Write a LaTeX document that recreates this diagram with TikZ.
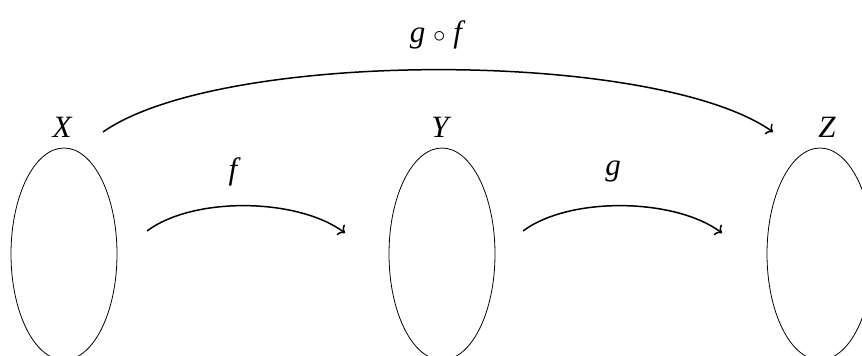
\documentclass[tikz,border=0pt]{standalone}
\usepackage{fontspec}
\newfontfamily\lbfont{Liberation Serif}
\usetikzlibrary{shapes.geometric,arrows.meta}
\begin{document}
\begin{tikzpicture}[x=1pt,y=-1pt,
  setbox/.style={ellipse, draw, line width=0.8pt, minimum width=106pt, minimum height=212pt, inner sep=0pt},
  lbl/.style={font=\fontsize{31}{36}\lbfont\itshape, inner sep=0pt},
  maparrow/.style={-{To[length=6pt,width=13pt]}, line width=1.5pt}]
\useasboundingbox (0,0) rectangle (862,356);
\node[setbox] (SX) at (64,254) {};
\node[setbox] (SY) at (442,254) {};
\node[setbox] (SZ) at (820,254) {};
\node[lbl] (X) at (62,127) {X};
\node[lbl] (Y) at (440,127) {Y};
\node[lbl] (Z) at (827,127) {Z};
\node[lbl] (f) at (233,172) {f};
\node[lbl] (g) at (613,172) {g};
\node[lbl] (gf) at (436,35) {g {\upshape$\circ$} f};
\coordinate (fs) at (147,231);
\coordinate (fe) at (345,233);
\coordinate (gs) at (523,231);
\coordinate (ge) at (722,233);
\coordinate (cs) at (103,132);
\coordinate (ce) at (773,132);
\draw[maparrow] (fs) .. controls +(47,-35) and +(-47,-35) .. (fe);
\draw[maparrow] (gs) .. controls +(47,-35) and +(-47,-35) .. (ge);
\draw[maparrow] (cs) .. controls +(118,-83) and +(-118,-83) .. (ce);
\end{tikzpicture}
\end{document}
